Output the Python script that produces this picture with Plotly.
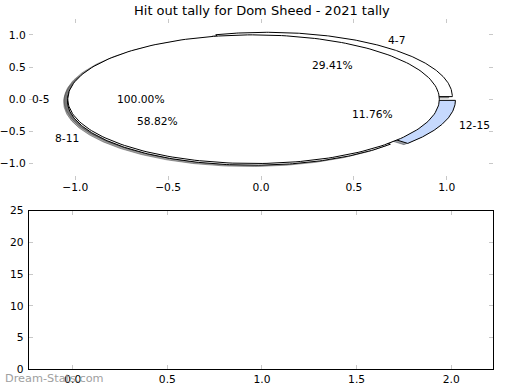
import numpy as np
import plotly.graph_objects as go

# ---- data ----
title = "Hit out tally for Dom Sheed - 2021 tally"
labels_main = ["4-7", "8-11", "12-15"]
values_main = [5, 10, 2]
labels_extra = ["0-5"]
values_extra = [1]
x_ticks_top = [-1.0, -0.5, 0.0, 0.5, 1.0]
y_ticks_top = [-1.0, -0.5, 0.0, 0.5, 1.0]
x_ticks_bottom = [0.0, 0.5, 1.0, 1.5, 2.0]
y_ticks_bottom = [0, 5, 10, 15, 20, 25]

# ---- style ----
colors_main = ["#ffffff", "#ffffff", "#c6d9fd"]
colors_extra = ["#ffffff"]
explode_main = [0.05, 0.05, 0.05]
explode_extra = [0.04]
shadow_off = (-0.02, -0.02)
W, H = 520, 390
FONT = "DejaVu Sans"


def py_(y):
    # vertical pixel position (from top) -> paper fraction
    return 1 - y / H


def fmt(v):
    return ("\u2212" if v < 0 else "") + f"{abs(v):.1f}"


def pie_geometry(values, explode):
    total = float(sum(values))
    out = []
    t1 = 0.0
    for v, ex in zip(values, explode):
        t2 = t1 + 360.0 * v / total
        mid = np.deg2rad((t1 + t2) / 2)
        cx, cy = ex * np.cos(mid), ex * np.sin(mid)
        th = np.deg2rad(np.linspace(t1, t2, 240))
        xs, ys = cx + np.cos(th), cy + np.sin(th)
        if t2 - t1 < 360:
            xs = np.concatenate([[cx], xs, [cx]])
            ys = np.concatenate([[cy], ys, [cy]])
        out.append(dict(x=xs, y=ys, cx=cx, cy=cy, mid=mid, pct=100.0 * v / total))
        t1 = t2
    return out


def shade(hexcol):
    r, g, b = (int(hexcol[i:i + 2], 16) for i in (1, 3, 5))
    return f"rgba({int(r*0.3)},{int(g*0.3)},{int(b*0.3)},0.5)"


geo_main = pie_geometry(values_main, explode_main)
geo_extra = pie_geometry(values_extra, explode_extra)
pies = [(geo_main, labels_main, colors_main), (geo_extra, labels_extra, colors_extra)]

fig = go.Figure()

# shadows first (lower z-order)
for geo, labs, cols in pies:
    for g, c in zip(geo, cols):
        sc = shade(c)
        fig.add_trace(go.Scatter(x=g["x"] + shadow_off[0], y=g["y"] + shadow_off[1],
                                 mode="lines", fill="toself", fillcolor=sc,
                                 line=dict(color=sc, width=1), hoverinfo="skip",
                                 showlegend=False, xaxis="x", yaxis="y"))
# wedges
annotations = []
for geo, labs, cols in pies:
    for g, lab, c in zip(geo, labs, cols):
        fig.add_trace(go.Scatter(x=g["x"], y=g["y"], mode="lines", fill="toself",
                                 fillcolor=c, line=dict(color="black", width=1),
                                 hoverinfo="skip", showlegend=False, xaxis="x", yaxis="y"))
        lx = g["cx"] + 1.1 * np.cos(g["mid"])
        ly = g["cy"] + 1.1 * np.sin(g["mid"])
        left = lx > 0
        annotations.append(dict(x=lx, y=ly, xref="x", yref="y", text=lab, showarrow=False,
                                xanchor="left" if left else "right", yanchor="middle",
                                xshift=-2.5 if left else 0.5, borderpad=0,
                                font=dict(family=FONT, size=10.7, color="black")))
        px = g["cx"] + 0.6 * np.cos(g["mid"])
        py = g["cy"] + 0.6 * np.sin(g["mid"])
        annotations.append(dict(x=px, y=py, xref="x", yref="y", text=f"{g['pct']:.2f}%",
                                showarrow=False, xanchor="center", yanchor="middle",
                                xshift=-1, borderpad=0,
                                font=dict(family=FONT, size=10.7, color="black")))

# empty bottom chart
fig.add_trace(go.Bar(x=[], y=[], xaxis="x2", yaxis="y2", showlegend=False))

annotations.append(dict(x=0, y=py_(385.5), xref="paper", yref="paper", text="Dream-Stats.com",
                        showarrow=False, xanchor="left", yanchor="middle", borderpad=0,
                        font=dict(family=FONT, size=11.3, color="#a0a0a0")))
annotations.append(dict(x=259.5 / W, y=py_(5.0), xref="paper", yref="paper", text=title,
                        showarrow=False, xanchor="center", yanchor="middle", borderpad=0,
                        font=dict(family=FONT, size=13, color="black")))

tickfont = dict(family=FONT, size=10.7, color="black")
common = dict(ticks="inside", ticklen=4, tickcolor="#c8c8c8", tickwidth=1,
              showgrid=False, zeroline=False, tickfont=tickfont)
xd = [25 / W, 493 / W]
fig.update_layout(
    width=W, height=H, margin=dict(l=0, r=0, t=0, b=0, pad=0),
    paper_bgcolor="white", plot_bgcolor="white",
    showlegend=False, annotations=annotations,
    xaxis=dict(domain=xd, range=[-1.25, 1.25], anchor="y", tickvals=x_ticks_top,
               ticktext=[fmt(v) for v in x_ticks_top], showline=False, mirror="ticks", **common),
    yaxis=dict(domain=[py_(179.6), py_(13.2)], range=[-1.25, 1.25], anchor="x",
               tickvals=y_ticks_top, ticktext=[fmt(v) for v in y_ticks_top],
               showline=False, mirror="ticks", ticklabelstandoff=2, **common),
    xaxis2=dict(domain=xd, range=[-0.232, 2.222], anchor="y2", tickvals=x_ticks_bottom,
                ticktext=[fmt(v) for v in x_ticks_bottom], showline=True, linecolor="black",
                linewidth=1, mirror="ticks", **common),
    yaxis2=dict(domain=[py_(375.9), py_(211.6)], range=[0, 25], anchor="x2",
                tickvals=y_ticks_bottom, ticktext=[str(v) for v in y_ticks_bottom],
                showline=True, linecolor="black", linewidth=1, mirror="ticks",
                ticklabelstandoff=2, **common),
)

css_js = ("var s=document.documentElement.style;s.margin='0';s.padding='0';s.overflow='hidden';"
          "var b=document.body.style;b.margin='0';b.padding='0';b.overflow='hidden';")
fig.write_html("out.html", config={"displayModeBar": False}, post_script=css_js)
